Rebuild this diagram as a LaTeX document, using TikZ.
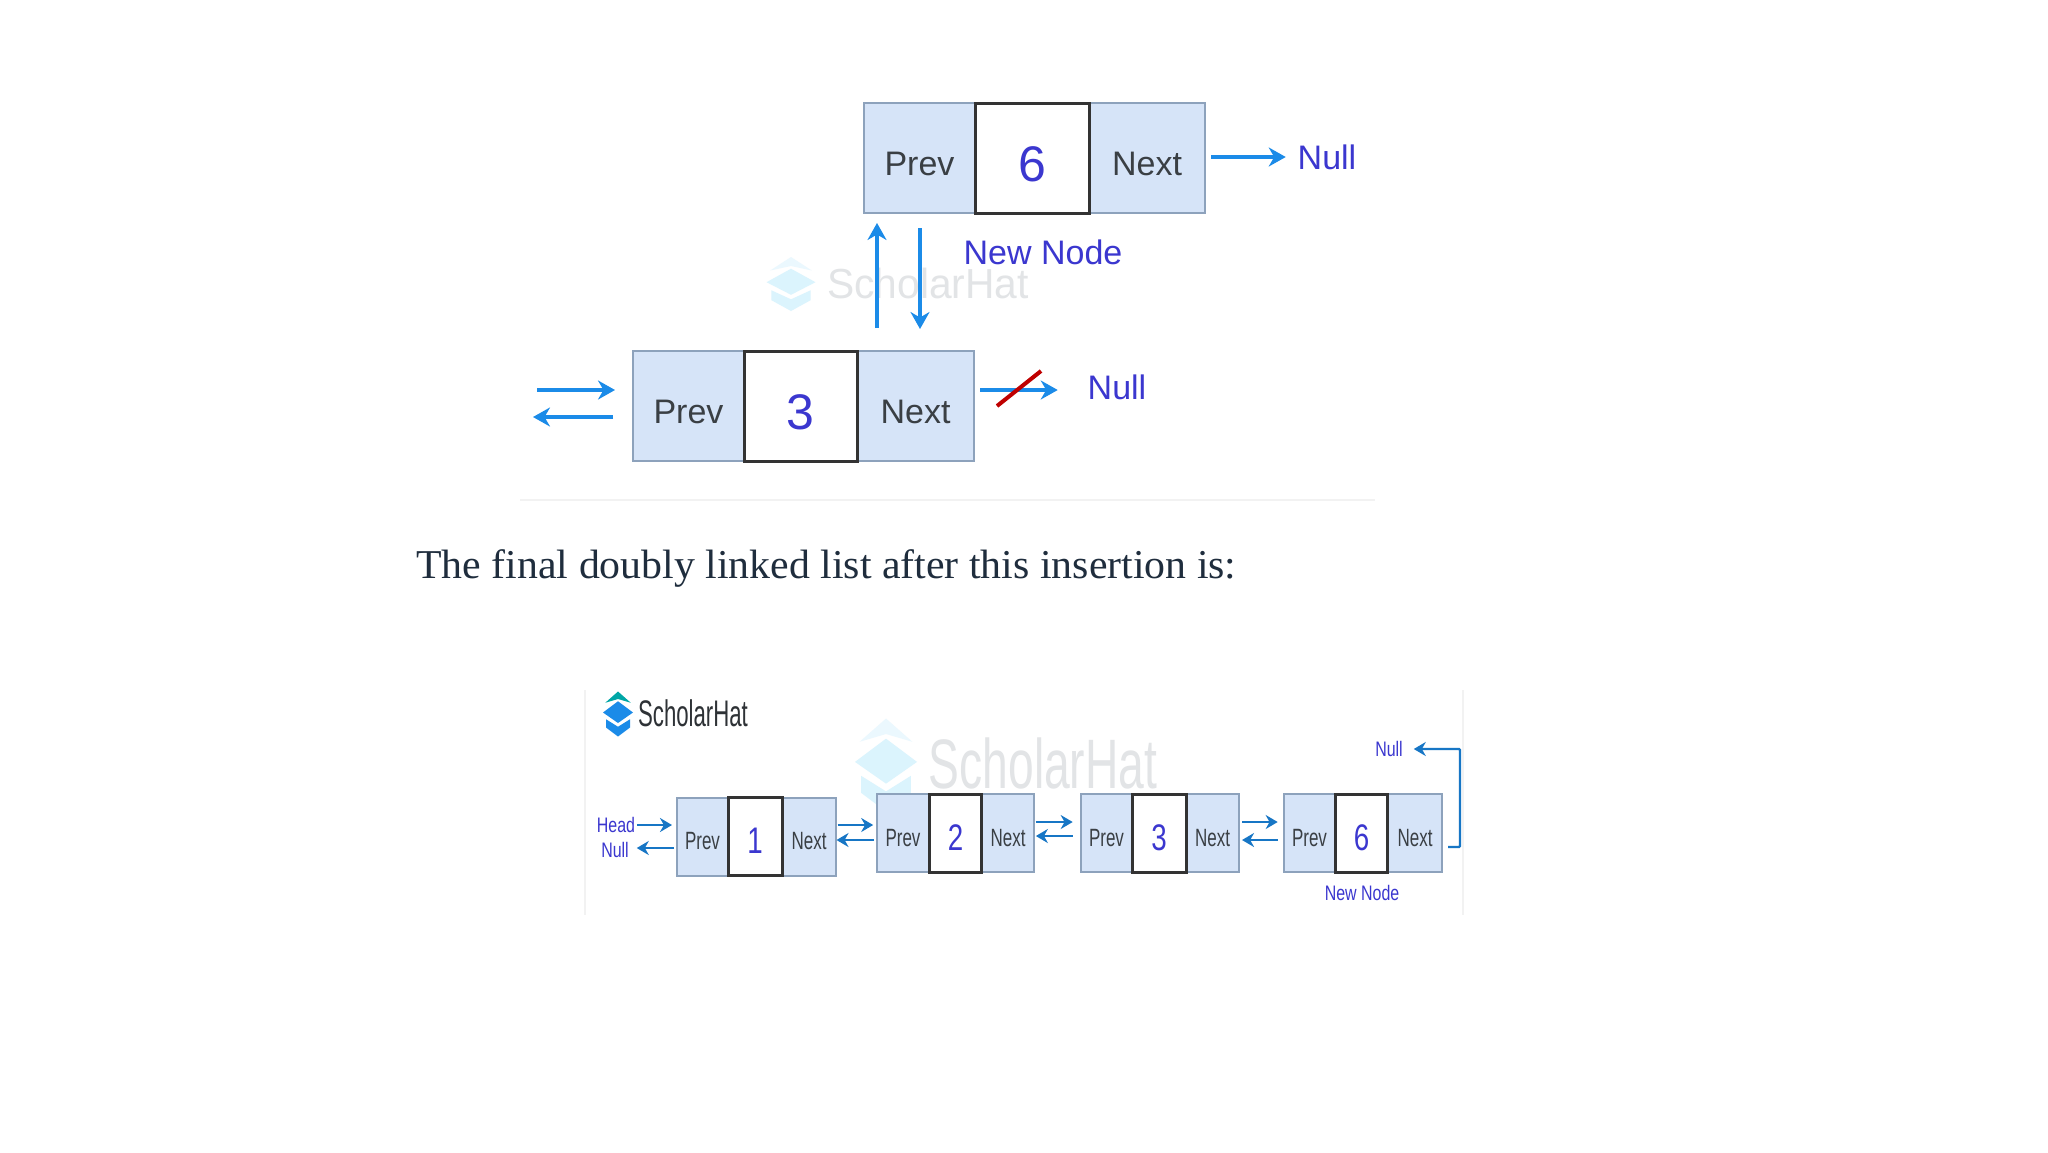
\documentclass[tikz,border=0pt]{standalone}
\usepackage{fontspec}
\setmainfont{Liberation Sans}
\newfontfamily\pageserif{Liberation Serif}
\usetikzlibrary{arrows.meta}
\definecolor{cellblue}{HTML}{D6E4F8}
\definecolor{celledge}{HTML}{8DA2BC}
\definecolor{dataedge}{HTML}{333333}
\definecolor{celltext}{HTML}{3A3F44}
\definecolor{labelblue}{HTML}{3B37CF}
\definecolor{arrowblue}{HTML}{1B8BE8}
\definecolor{pagetext}{HTML}{1F2D3D}
\definecolor{faintline}{HTML}{F2F2F2}
\definecolor{markgray}{HTML}{E2E4E6}
\tikzset{
  cell/.style={rectangle, inner sep=0pt, outer sep=0pt},
  sidecell/.style={cell, draw=celledge, fill=cellblue, line width=1pt, text=celltext},
  datacell/.style={cell, draw=dataedge, fill=white, line width=1.5pt, text=labelblue},
  bigcell/.style={minimum height=55pt, font=\fontsize{17}{20}\selectfont, text height=17pt, text depth=0pt},
  bigdigit/.style={minimum height=55pt, font=\fontsize{25}{30}\selectfont, text height=23pt, text depth=0pt},
  smallcell/.style={minimum height=39pt, xscale=.68, transform shape, font=\fontsize{12.5}{15}\selectfont, text height=13pt, text depth=0pt},
  smalldigit/.style={minimum height=39pt, xscale=.75, transform shape, font=\fontsize{18.5}{22}\selectfont, text height=17pt, text depth=0pt},
  biglabel/.style={inner sep=0pt, outer sep=0pt, text=labelblue, font=\fontsize{17}{20}\selectfont},
  smalllabel/.style={inner sep=0pt, outer sep=0pt, text=labelblue, xscale=.76, transform shape, font=\fontsize{10.5}{13}\selectfont},
  ptr/.style={-{Stealth[length=8.5pt,width=9.5pt]}, arrowblue, line width=1.7pt},
  thinptr/.style={-{Stealth[length=6pt,width=7pt]}, arrowblue!85!black, line width=1.2pt},
  watermark/.style={inner sep=0pt, outer sep=0pt, text=markgray},
  pics/hatlogo/.style n args={2}{code={
    \fill[#1] (-.85,-.75) -- (0,-1.5) -- (.85,-.75) -- (0,-1) -- cycle;
    \fill[#2] (-1,-.1) -- (0,-.85) -- (1,-.1) -- (0,.6) -- cycle;
    \fill[#2] (-.8,.35) -- (0,.85) -- (.8,.35) -- (.8,.9) -- (0,1.5) -- (-.8,.9) -- cycle;
  }}
}
\begin{document}
\begin{tikzpicture}[x=0.5pt,y=-0.5pt]
\useasboundingbox (0,0) rectangle (2048,1152);
\fill[white] (0,0) rectangle (2048,1152);
\draw[faintline, line width=.8pt] (585,690) -- (585,915);
\draw[faintline, line width=.8pt] (1463,690) -- (1463,915);
\draw[faintline, line width=1pt] (520,500) -- (1375,500);
\pic[xscale=24.5, yscale=18] at (791,284) {hatlogo={cyan!8!white}{cyan!14!white}};
\node[watermark, font=\fontsize{21}{25}\selectfont, xscale=.97, transform shape] (topmark) at (928,283) {ScholarHat};
\pic[xscale=31, yscale=31] at (886,765) {hatlogo={cyan!8!white}{cyan!14!white}};
\node[watermark, font=\fontsize{35}{42}\selectfont, xscale=.66, transform shape] (bigmark) at (1043,763) {ScholarHat};
\pic[xscale=15, yscale=15] at (618,714) {hatlogo={teal!70!cyan}{arrowblue}};
\node[inner sep=0pt, text=celltext!80!black, font=\fontsize{18.5}{22}\selectfont, xscale=.6, transform shape] (logotext) at (693,713) {ScholarHat};

\node[sidecell, bigcell, minimum width=55.5pt] (topprev) at (919.5,158) {Prev};
\node[sidecell, bigcell, minimum width=58pt] (topnext) at (1147,158) {Next};
\node[datacell, bigdigit, minimum width=57pt] (topdata) at (1032,158) {6};
\node[biglabel] (topnull) at (1327,157) {Null};
\node[biglabel] (newnode) at (1043,252) {New Node};

\node[sidecell, bigcell, minimum width=55.5pt] (lowprev) at (688.5,406) {Prev};
\node[sidecell, bigcell, minimum width=58.5pt] (lownext) at (915.5,406) {Next};
\node[datacell, bigdigit, minimum width=56.5pt] (lowdata) at (800.5,406) {3};
\node[biglabel] (lownull) at (1117,387) {Null};
\coordinate (lowin) at (537,390);
\coordinate (lowout) at (613,417);
\coordinate (lowend) at (533,417);
\coordinate (slasha) at (997,406);
\coordinate (slashb) at (1041,371);

\draw[ptr, shorten <=3pt, shorten >=6pt] ([yshift=.5pt]topnext.east) -- (topnull.west);
\draw[ptr, shorten <=11.5pt, shorten >=5pt] ([xshift=-19.25pt]lownext.north) -- ([xshift=-21.25pt]topprev.south);
\draw[ptr, shorten <=7.5pt, shorten >=11pt] ([xshift=.25pt]topprev.south) -- ([xshift=2.25pt]lownext.north);
\draw[ptr, shorten >=9pt] (lowin) -- ([yshift=8pt]lowprev.west);
\draw[ptr] (lowout) -- (lowend);
\draw[ptr, shorten <=3pt, shorten >=15pt] ([yshift=8pt]lownext.east) -- ([yshift=-1.5pt]lownull.west);
\draw[red!75!black, line width=2pt] (slasha) -- (slashb);

\node[anchor=west, inner sep=0pt, text=pagetext, xscale=1.02, transform shape, font=\pageserif\fontsize{20.5}{25}\selectfont] (finaltext) at (416,568) {The final doubly linked list after this insertion is:};

\node[sidecell, smallcell, minimum width=37.5pt] (oneprev) at (702.5,836.5) {Prev};
\node[sidecell, smallcell, minimum width=39pt] (onenext) at (809,836.5) {Next};
\node[datacell, smalldigit, minimum width=36pt] (onedata) at (755,836.5) {1};
\node[sidecell, smallcell, minimum width=38pt] (twoprev) at (903,833) {Prev};
\node[sidecell, smallcell, minimum width=38pt] (twonext) at (1008,833) {Next};
\node[datacell, smalldigit, minimum width=35pt] (twodata) at (955.5,833) {2};
\node[sidecell, smallcell, minimum width=38pt] (threeprev) at (1106.5,833) {Prev};
\node[sidecell, smallcell, minimum width=39pt] (threenext) at (1212.5,833) {Next};
\node[datacell, smalldigit, minimum width=36pt] (threedata) at (1159,833) {3};
\node[sidecell, smallcell, minimum width=38pt] (fourprev) at (1309.5,833) {Prev};
\node[sidecell, smallcell, minimum width=40pt] (fournext) at (1415,833) {Next};
\node[datacell, smalldigit, minimum width=35pt] (fourdata) at (1361.5,833) {6};

\node[smalllabel] (headlabel) at (616,825) {Head};
\node[smalllabel] (headnull) at (615,850) {Null};
\node[smalllabel] (tailnull) at (1389,749) {Null};
\node[smalllabel] (newlabel) at (1362,893) {New Node};
\coordinate (tailcorner) at (1460,847);

\draw[thinptr, shorten <=1pt, shorten >=2.5pt] (headlabel.east) -- ([yshift=5.75pt]oneprev.west);
\draw[thinptr, shorten <=1.5pt, shorten >=4pt] ([yshift=-5.75pt]oneprev.west) -- ([yshift=1pt]headnull.east);
\draw[thinptr, shorten <=1pt, shorten >=2pt] ([yshift=5.75pt]onenext.east) -- ([yshift=4pt]twoprev.west);
\draw[thinptr, shorten <=1.5pt, shorten >=.5pt] ([yshift=-3.5pt]twoprev.west) -- ([yshift=-1.75pt]onenext.east);
\draw[thinptr, shorten <=1pt, shorten >=4pt] ([yshift=5.5pt]twonext.east) -- ([yshift=5.5pt]threeprev.west);
\draw[thinptr, shorten <=4pt, shorten >=1pt] ([yshift=-1.5pt]threeprev.west) -- ([yshift=-1.5pt]twonext.east);
\draw[thinptr, shorten <=1.5pt, shorten >=3pt] ([yshift=5.5pt]threenext.east) -- ([yshift=5.5pt]fourprev.west);
\draw[thinptr, shorten <=3pt, shorten >=1.5pt] ([yshift=-3.5pt]fourprev.west) -- ([yshift=-3.5pt]threenext.east);
\draw[thinptr, rounded corners=.5pt, shorten <=3pt, shorten >=5.5pt] ([yshift=-7pt]fournext.east) -- (tailcorner) -- (tailcorner |- tailnull.east) -- (tailnull.east);
\end{tikzpicture}
\end{document}
